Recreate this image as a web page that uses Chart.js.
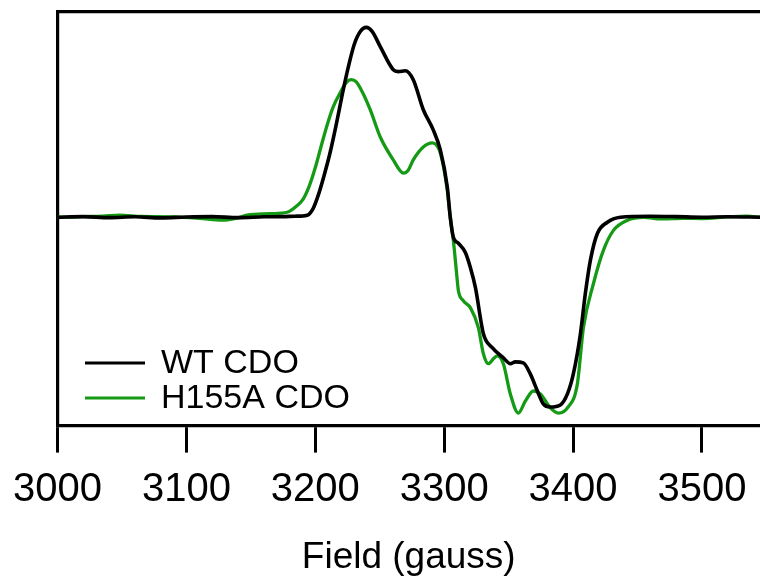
<!DOCTYPE html>
<html>
<head>
<meta charset="utf-8">
<script src="https://cdn.jsdelivr.net/npm/chart.js@4"></script>
<style>
  html, body { margin: 0; padding: 0; background: #fff; }
  #wrap { width: 760px; height: 580px; position: relative; }
</style>
</head>
<body>
<div id="wrap"><canvas id="epr"></canvas></div>
<script>
// field values (gauss) and signal (arbitrary units)
var fieldWT = [3000, 3020, 3040, 3060, 3080, 3100, 3120, 3140, 3160, 3175, 3184.4, 3193.7, 3198.4, 3202.3, 3206.9, 3211.6, 3216.2, 3220.9, 3225.5, 3230.2, 3234.9, 3239.5, 3244.2, 3250.4, 3260.5, 3264.4, 3269.8, 3276.0, 3283.8, 3291.5, 3297.0, 3302.4, 3304.7, 3307.1, 3311.0, 3316.4, 3320.3, 3324.2, 3330.4, 3337.3, 3345.9, 3351.3, 3355.2, 3361.4, 3366.8, 3372.3, 3376.9, 3382.4, 3390.1, 3395.6, 3400.2, 3405.7, 3409.5, 3413.4, 3418.9, 3426.6, 3436.7, 3460, 3480, 3500, 3520, 3545];
var signalWT = [0, 0.3, -0.2, 0.2, -0.3, 0.1, 0.3, -0.2, 0.2, 0.3, 0.5, 1.0, 4.3, 10.6, 20.2, 31.3, 44.3, 58.8, 71.8, 82.9, 89.1, 91.1, 89.1, 81.9, 70.8, 69.9, 70.3, 66.0, 51.6, 41.9, 32.3, 14.5, 0, -9.6, -12.5, -16.9, -24.1, -33.7, -55.9, -62.6, -67.5, -70.3, -69.4, -69.9, -75.2, -83.4, -89.6, -91.1, -90.1, -84.8, -75.2, -55.9, -36.6, -20.7, -7.7, -2.4, 0, 0.5, 0.3, 0, 0.2, 0];

var fieldH155A = [3000, 3020, 3035, 3048, 3065, 3090, 3110, 3128, 3140, 3147, 3165, 3178.1, 3184.4, 3190.6, 3195.3, 3199.9, 3204.6, 3209.2, 3213.9, 3219.3, 3224.0, 3227.9, 3231.8, 3236.4, 3242.6, 3250.4, 3260.5, 3268.3, 3272.1, 3276.0, 3283.8, 3290.8, 3297.0, 3302.4, 3304.7, 3307.1, 3309.4, 3311.0, 3314.8, 3320.3, 3326.5, 3330.4, 3334.3, 3338.2, 3341.3, 3345.9, 3351.3, 3357.5, 3363.0, 3369.2, 3374.6, 3382.4, 3388.6, 3395.6, 3403.3, 3408.0, 3415.8, 3423.5, 3431.3, 3442.2, 3454.6, 3468, 3485, 3500, 3520, 3535, 3545];
var signalH155A = [0, 0.3, 0.5, 1.0, 0.4, 0.2, -0.5, -1.4, -0.3, 1.0, 1.7, 2.4, 4.8, 8.7, 14.9, 23.6, 34.2, 44.3, 53.0, 59.7, 64.6, 66.0, 65.0, 60.2, 51.6, 38.5, 27.5, 21.2, 22.6, 27.5, 33.7, 35.7, 30.8, 13.0, 0, -11.1, -25.5, -35.2, -40.0, -43.4, -53.0, -65.5, -70.3, -67.9, -66.5, -70.3, -84.8, -94.0, -88.2, -83.4, -84.8, -91.5, -94.0, -91.5, -80.0, -53.0, -31.8, -15.9, -6.3, -1.4, 0, -0.8, -0.5, -0.6, 0.2, 0.5, 0];

var xTicks = [3000, 3100, 3200, 3300, 3400, 3500];

function toPoints(xs, ys) {
  return xs.map(function (x, i) { return { x: x, y: ys[i] }; });
}

// legend drawn inside the plot, lower left
var insideLegend = {
  id: 'insideLegend',
  afterDatasetsDraw: function (chart) {
    var ctx = chart.ctx;
    var rows = [363, 398];
    ctx.save();
    ctx.font = '34px "Liberation Sans", Arial, sans-serif';
    ctx.textBaseline = 'middle';
    chart.data.datasets.forEach(function (ds, i) {
      var y = rows[i];
      ctx.strokeStyle = ds.borderColor;
      ctx.lineWidth = 3.2;
      ctx.beginPath();
      ctx.moveTo(85, y);
      ctx.lineTo(145, y);
      ctx.stroke();
      ctx.fillStyle = '#000';
      ctx.fillText(ds.label, 161, y + 1);
    });
    ctx.restore();
  }
};

new Chart(document.getElementById('epr'), {
  type: 'line',
  data: {
    datasets: [{
      label: 'WT CDO',
      data: toPoints(fieldWT, signalWT),
      borderColor: '#000000',
      borderWidth: 3.6,
      pointRadius: 0,
      cubicInterpolationMode: 'monotone',
      fill: false,
      order: 1
    }, {
      label: 'H155A CDO',
      data: toPoints(fieldH155A, signalH155A),
      borderColor: '#149a14',
      borderWidth: 3.3,
      pointRadius: 0,
      cubicInterpolationMode: 'monotone',
      fill: false,
      order: 2
    }]
  },
  options: {
    responsive: true,
    maintainAspectRatio: false,
    animation: false,
    layout: { padding: { left: 56, right: 0, top: 12, bottom: 0 } },
    plugins: {
      legend: { display: false },
      tooltip: { enabled: false }
    },
    scales: {
      x: {
        type: 'linear',
        min: 3000,
        max: 3545,
        afterBuildTicks: function (axis) {
          axis.ticks = xTicks.map(function (v) { return { value: v }; });
        },
        ticks: {
          color: '#000',
          font: { family: '"Liberation Sans", Arial, sans-serif', size: 40 },
          padding: 13,
          maxRotation: 0,
          autoSkip: false,
          callback: function (v) { return String(v); }
        },
        grid: { drawOnChartArea: false, tickLength: 27, tickWidth: 3, tickColor: '#000' },
        border: { color: '#000', width: 3.2 },
        title: {
          display: true,
          text: 'Field (gauss)',
          color: '#000',
          font: { family: '"Liberation Sans", Arial, sans-serif', size: 37 },
          padding: { top: 9, bottom: 0 }
        }
      },
      x2: {
        type: 'linear',
        position: 'top',
        min: 3000,
        max: 3545,
        display: true,
        ticks: { display: false },
        grid: { display: false, drawTicks: false },
        border: { color: '#000', width: 3.2 }
      },
      y: {
        min: -100,
        max: 98.5,
        ticks: { display: false, stepSize: 50 },
        grid: {
          drawTicks: false,
          lineWidth: 3,
          color: function (c) { return c.tick && c.tick.value === 0 ? '#000' : 'rgba(0,0,0,0)'; }
        },
        border: { color: '#000', width: 3.2 }
      }
    }
  },
  plugins: [insideLegend]
});
</script>
</body>
</html>
